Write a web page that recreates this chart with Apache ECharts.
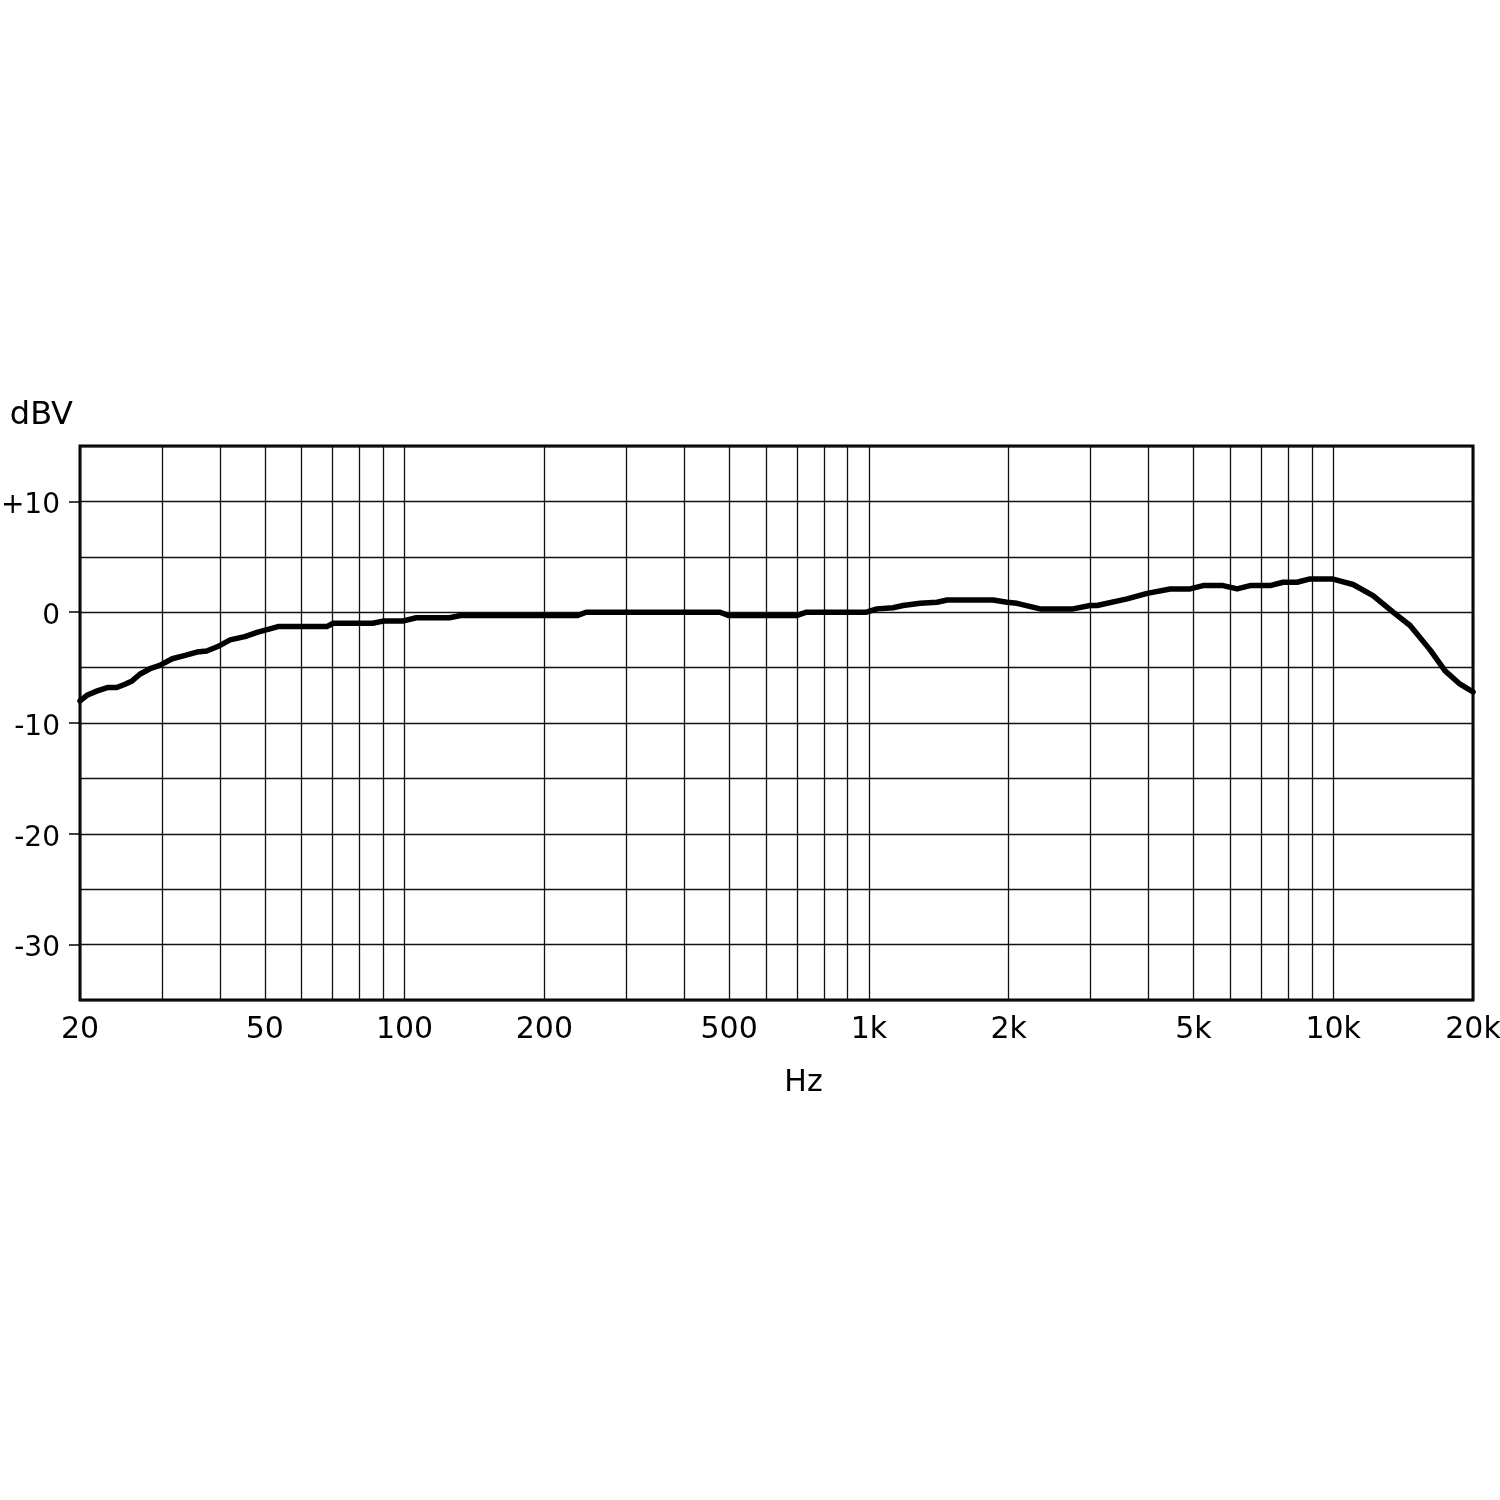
<!DOCTYPE html>
<html><head><meta charset="utf-8">
<script src="https://cdn.jsdelivr.net/npm/echarts@6/dist/echarts.min.js"></script>
<style>html,body{margin:0;padding:0;background:#fff}#c{width:1500px;height:1500px}</style>
</head><body><div id="c"></div>
<script>
// Frequency response (Hz) and level (dBV)
const freqHz = [20, 20.7, 21.8, 22.9, 24.0, 25.0, 25.9, 26.9, 28.3, 29.7, 31.6, 33.7, 35.7, 37.5, 39.6, 42.1, 45.3, 48.3, 51.3, 53.4,
  68, 70.2, 85.4, 89.8, 99, 106, 125, 132, 236, 246, 478, 498, 698, 734, 988,
  1041, 1127, 1185, 1289, 1402, 1474, 1851, 1984, 2084, 2337, 2752, 2994, 3100, 3598, 3974, 4454, 4917,
  5246, 5792, 6210, 6622, 7312, 7798, 8358, 8916, 9946, 11036, 12184, 13458, 14640, 16168, 17416, 18758, 20000];
const levelDbv = [-8.0, -7.5, -7.1, -6.8, -6.8, -6.5, -6.2, -5.6, -5.1, -4.8, -4.2, -3.9, -3.6, -3.5, -3.1, -2.5, -2.2, -1.8, -1.5, -1.3,
  -1.3, -1.0, -1.0, -0.8, -0.8, -0.5, -0.5, -0.3, -0.3, 0, 0, -0.3, -0.3, 0, 0,
  0.3, 0.4, 0.6, 0.8, 0.9, 1.1, 1.1, 0.9, 0.8, 0.3, 0.3, 0.6, 0.6, 1.2, 1.7, 2.1, 2.1,
  2.4, 2.4, 2.1, 2.4, 2.4, 2.7, 2.7, 3.0, 3.0, 2.5, 1.5, 0, -1.2, -3.4, -5.3, -6.5, -7.2];

const xGridFreqs = [20, 30, 40, 50, 60, 70, 80, 90, 100, 200, 300, 400, 500, 600, 700, 800, 900,
  1000, 2000, 3000, 4000, 5000, 6000, 7000, 8000, 9000, 10000, 20000];
const xTickValues = [20, 50, 100, 200, 500, 1000, 2000, 5000, 10000, 20000];
const xTickLabels = ['20', '50', '100', '200', '500', '1k', '2k', '5k', '10k', '20k'];
const yTickValues = [10, 0, -10, -20, -30];
const yTickLabels = ['+10', '0', '-10', '-20', '-30'];

const FONT = 'DejaVu Sans';
const FS = 30;
const chart = echarts.init(document.getElementById('c'), null, { renderer: 'canvas' });

function lookup(values, labels, v) {
  const i = values.findIndex(t => Math.abs(t - v) <= 1e-6 * Math.max(1, Math.abs(t)));
  return i >= 0 ? labels[i] : '';
}

chart.setOption({
  animation: false,
  backgroundColor: '#fff',
  grid: { left: 80, right: 27, top: 446, bottom: 500, outerBoundsMode: 'none', containLabel: false,
    show: true, borderColor: '#000', borderWidth: 3, backgroundColor: 'transparent' },
  xAxis: {
    type: 'log', logBase: 10, min: 20, max: 20000,
    name: 'Hz', nameLocation: 'middle', nameGap: 68,
    nameTextStyle: { fontFamily: FONT, fontSize: FS, color: '#000', padding: [0, 0, 0, 54] },
    axisLine: { show: false },
    axisTick: { show: false, customValues: xGridFreqs },
    splitLine: { show: true, lineStyle: { color: '#111', width: 1.3 } },
    axisLabel: {
      customValues: xTickValues,
      formatter: v => lookup(xTickValues, xTickLabels, v),
      fontFamily: FONT, fontSize: FS, color: '#000', margin: 15,
      showMinLabel: true, showMaxLabel: true, hideOverlap: false
    }
  },
  yAxis: [
    {
      type: 'value', min: -35, max: 15, interval: 5,
      axisLine: { show: false }, axisTick: { show: false }, axisLabel: { show: false },
      splitLine: { show: true, lineStyle: { color: '#111', width: 1.3 } }
    },
    {
      type: 'value', position: 'left', offset: 0, min: -35, max: 15, interval: 5,
      name: 'dBV', nameLocation: 'end', nameGap: 14,
      nameTextStyle: { fontFamily: FONT, fontSize: 32, color: '#000', align: 'right', padding: [0, 7, 0, 0] },
      axisLine: { show: false },
      axisTick: { show: true, customValues: yTickValues, length: 11, lineStyle: { color: '#000', width: 1.5 } },
      axisLabel: {
        customValues: yTickValues,
        formatter: v => '{v|' + lookup(yTickValues, yTickLabels, v) + '}',
        rich: { v: { fontFamily: FONT, fontSize: 28, color: '#000', padding: [9, 0, 0, 0] } },
        fontFamily: FONT, fontSize: 28, color: '#000', margin: 20
      },
      splitLine: { show: false }
    }
  ],
  series: [{
    type: 'line', yAxisIndex: 0, z: 5,
    data: freqHz.map((f, i) => [f, levelDbv[i]]),
    showSymbol: false, symbol: 'none',
    lineStyle: { color: '#000', width: 5.5, cap: 'round', join: 'round' }
  }]
});
</script>
</body></html>
